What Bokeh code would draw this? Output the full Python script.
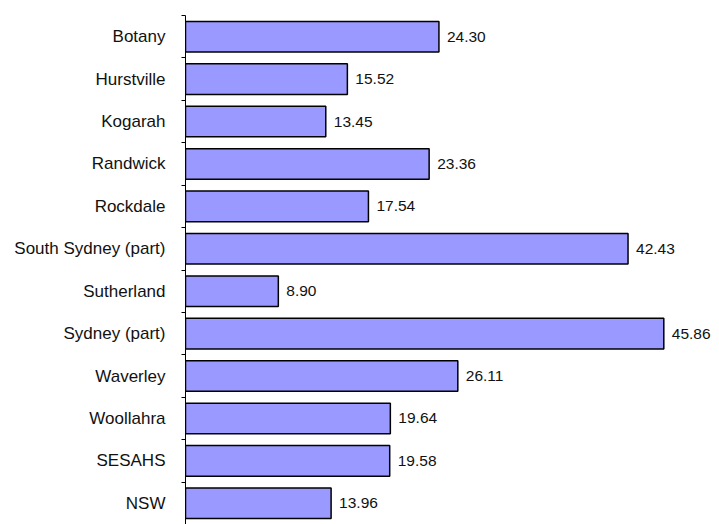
from bokeh.plotting import figure
from bokeh.models import ColumnDataSource, Range1d, LinearAxis, FixedTicker
from bokeh.core.properties import value
from bokeh.embed import file_html
from bokeh.resources import INLINE

areas = ["Botany", "Hurstville", "Kogarah", "Randwick", "Rockdale",
         "South Sydney (part)", "Sutherland", "Sydney (part)", "Waverley",
         "Woollahra", "SESAHS", "NSW"]
values = [24.30, 15.52, 13.45, 23.36, 17.54, 42.43, 8.90, 45.86, 26.11,
          19.64, 19.58, 13.96]

n = len(areas)
centers = [i + 0.5 for i in range(n)]
bounds = list(range(n + 1))

src = ColumnDataSource(dict(
    y=centers, v=values,
    lbl=["%.2f" % v for v in values],
))

p = figure(width=719, height=524, output_backend="svg", toolbar_location=None,
           x_range=Range1d(0, 51.2), y_range=Range1d(n, 0),
           min_border_left=185, min_border_right=0, min_border_top=15,
           min_border_bottom=0, x_axis_location=None, y_axis_location=None)
p.outline_line_color = None
p.grid.visible = False
p.background_fill_color = "white"
p.border_fill_color = "white"

yaxis = LinearAxis(ticker=FixedTicker(ticks=centers, minor_ticks=bounds))
yaxis.major_label_overrides = {c: a for c, a in zip(centers, areas)}
yaxis.major_tick_out = 0
yaxis.major_tick_in = 0
yaxis.minor_tick_out = 4
yaxis.minor_tick_in = 0
yaxis.minor_tick_line_color = "black"
yaxis.axis_line_color = "black"
yaxis.axis_line_width = 1
yaxis.major_label_standoff = 16
yaxis.major_label_text_font = "Liberation Sans"
yaxis.major_label_text_font_style = "normal"
yaxis.major_label_text_font_size = "17px"
yaxis.major_label_text_color = "#111111"
p.add_layout(yaxis, "left")

p.hbar(y="y", right="v", left=0, height=0.72, source=src,
       fill_color="#9999FF", line_color="black", line_width=1.5)

p.text(x="v", y="y", text="lbl", source=src, x_offset=8,
       text_baseline="middle", text_align="left",
       text_font=value("Liberation Sans"), text_font_size="15.5px",
       text_color="#111111")

open("out.html", "w").write(file_html(p, INLINE))
